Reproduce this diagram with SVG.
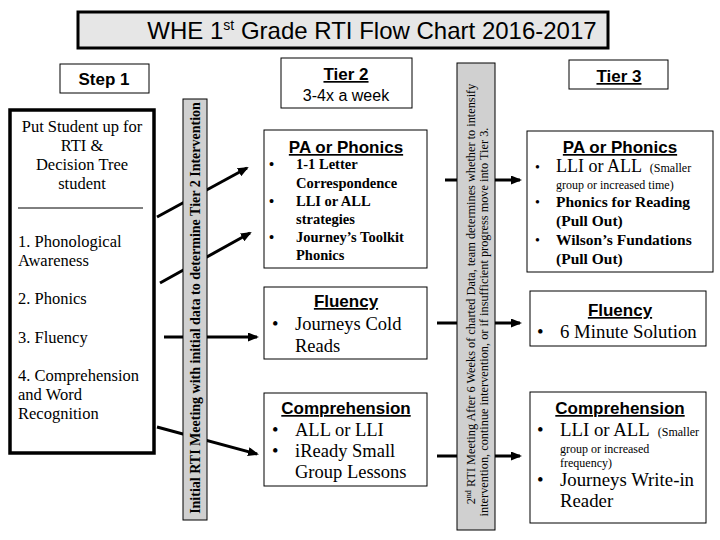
<svg xmlns="http://www.w3.org/2000/svg" width="720" height="540" viewBox="0 0 720 540">
<style>
.box{fill:#fff;stroke:#000;stroke-width:1}
.hd{font-family:"Liberation Sans",Arial,sans-serif;font-weight:bold;font-size:17px;text-decoration:underline;text-anchor:middle}
.sf{font-family:"Liberation Serif","Times New Roman",serif}
.b{font-weight:bold}
.bar{fill:#d0d0d0;stroke:#000;stroke-width:1}
.conn{stroke:#000;stroke-width:3;fill:none}
</style>
<defs>
<marker id="ah" markerUnits="userSpaceOnUse" markerWidth="11" markerHeight="9" refX="9" refY="4.5" orient="auto">
<path d="M0,0 L11,4.5 L0,9 Z" fill="#000"/>
</marker>
</defs>
<rect width="720" height="540" fill="#fff"/>

<g id="title">
<rect x="78" y="12" width="530" height="36" fill="#e6e6e6" stroke="#000" stroke-width="3"/>
<text x="372" y="39" font-family="Liberation Sans,Arial,sans-serif" font-size="24" text-anchor="middle">WHE 1<tspan font-size="14" dy="-9">st</tspan><tspan dy="9"> Grade RTI Flow Chart 2016-2017</tspan></text>
</g>

<g id="connectors">
<line class="conn" x1="157" y1="217" x2="247" y2="168" marker-end="url(#ah)"/>
<line class="conn" x1="160" y1="283" x2="250" y2="233" marker-end="url(#ah)"/>
<line class="conn" x1="164" y1="337" x2="257" y2="337" marker-end="url(#ah)"/>
<line class="conn" x1="157" y1="427" x2="257" y2="454" marker-end="url(#ah)"/>
<line class="conn" x1="445" y1="180" x2="520" y2="180" marker-end="url(#ah)"/>
<line class="conn" x1="437" y1="323" x2="520" y2="323" marker-end="url(#ah)"/>
<line class="conn" x1="437" y1="456" x2="520" y2="456" marker-end="url(#ah)"/>
</g>

<g id="step1-label">
<rect class="box" x="60" y="64" width="89" height="29"/>
<text x="104" y="85" font-family="Liberation Sans,Arial,sans-serif" font-weight="bold" font-size="17" text-anchor="middle">Step 1</text>
</g>

<g id="step1">
<rect x="10" y="110" width="144" height="343" fill="#fff" stroke="#000" stroke-width="3.5"/>
<g class="sf" font-size="16.5" text-anchor="middle">
<text x="82" y="132">Put Student up for</text>
<text x="82" y="151">RTI &amp;</text>
<text x="82" y="170">Decision Tree</text>
<text x="82" y="189">student</text>
</g>
<line x1="18" y1="208" x2="143" y2="208" stroke="#000" stroke-width="1"/>
<g class="sf" font-size="16.5">
<text x="18" y="247">1. Phonological</text>
<text x="18" y="266">Awareness</text>
<text x="18" y="304">2. Phonics</text>
<text x="18" y="343">3. Fluency</text>
<text x="18" y="381">4. Comprehension</text>
<text x="18" y="400">and Word</text>
<text x="18" y="419">Recognition</text>
</g>
</g>

<g id="meeting1">
<rect class="bar" x="183" y="99" width="24" height="421"/>
<text class="sf b" font-size="14" text-anchor="middle" transform="translate(200,308) rotate(-90)">Initial RTI Meeting with initial data to determine Tier 2 Intervention</text>
</g>

<g id="tier2-label">
<rect class="box" x="281" y="58" width="131" height="50"/>
<text class="hd" x="346" y="80">Tier 2</text>
<text x="346" y="101" font-family="Liberation Sans,Arial,sans-serif" font-size="16" text-anchor="middle">3-4x a week</text>
</g>

<g id="tier2-pa">
<rect class="box" x="264" y="130" width="163" height="138"/>
<text class="hd" x="346" y="153">PA or Phonics</text>
<g class="sf b" font-size="14.5">
<text x="269" y="169">•</text>
<text x="296" y="169">1-1 Letter</text>
<text x="296" y="188">Correspondence</text>
<text x="269" y="206">•</text>
<text x="296" y="206">LLI or ALL</text>
<text x="296" y="224">strategies</text>
<text x="269" y="242">•</text>
<text x="296" y="242">Journey’s Toolkit</text>
<text x="296" y="260">Phonics</text>
</g>
</g>

<g id="tier2-fluency">
<rect class="box" x="264" y="287" width="163" height="72"/>
<text class="hd" x="346" y="307">Fluency</text>
<g class="sf" font-size="18.5">
<text x="272" y="330">•</text>
<text x="295" y="330">Journeys Cold</text>
<text x="295" y="352">Reads</text>
</g>
</g>

<g id="tier2-comp">
<rect class="box" x="264" y="393" width="163" height="93"/>
<text class="hd" x="346" y="414">Comprehension</text>
<g class="sf" font-size="18.5">
<text x="272" y="436">•</text>
<text x="295" y="436">ALL or LLI</text>
<text x="272" y="457">•</text>
<text x="295" y="457">iReady Small</text>
<text x="295" y="478">Group Lessons</text>
</g>
</g>

<g id="meeting2">
<rect class="bar" x="457" y="63" width="38" height="467"/>
<g class="sf" font-size="12.3" text-anchor="middle">
<text transform="translate(475,294) rotate(-90)">2<tspan font-size="8" dy="-4">nd</tspan><tspan dy="4"> RTI Meeting After 6 Weeks of charted Data, team determines whether to intensify</tspan></text>
<text transform="translate(488,322) rotate(-90)">intervention, continue intervention, or if insufficient progress move into Tier 3.</text>
</g>
</g>

<g id="tier3-label">
<rect class="box" x="569" y="60" width="99" height="29"/>
<text class="hd" x="619" y="82">Tier 3</text>
</g>

<g id="tier3-pa">
<rect class="box" x="527" y="131" width="186" height="141"/>
<text class="hd" x="620" y="153">PA or Phonics</text>
<g class="sf">
<text x="535" y="172" font-size="14">•</text>
<text x="556" y="172" font-size="18">LLI or ALL <tspan font-size="12" dx="4">(Smaller</tspan></text>
<text x="556" y="189" font-size="12">group or increased time)</text>
<text x="535" y="207" font-size="14">•</text>
<text x="556" y="207" font-size="15.5" font-weight="bold">Phonics for Reading</text>
<text x="556" y="226" font-size="15.5" font-weight="bold">(Pull Out)</text>
<text x="535" y="245" font-size="14">•</text>
<text x="556" y="245" font-size="15.5" font-weight="bold">Wilson’s Fundations</text>
<text x="556" y="264" font-size="15.5" font-weight="bold">(Pull Out)</text>
</g>
</g>

<g id="tier3-fluency">
<rect class="box" x="530" y="291" width="176" height="55"/>
<text class="hd" x="620" y="316">Fluency</text>
<g class="sf" font-size="18.8">
<text x="537" y="338">•</text>
<text x="560" y="338">6 Minute Solution</text>
</g>
</g>

<g id="tier3-comp">
<rect class="box" x="530" y="392" width="176" height="131"/>
<text class="hd" x="620" y="414">Comprehension</text>
<g class="sf">
<text x="537" y="436" font-size="18.8">•</text>
<text x="560" y="436" font-size="18.8">LLI or ALL <tspan font-size="12" dx="4">(Smaller</tspan></text>
<text x="560" y="453" font-size="12">group or increased</text>
<text x="560" y="467" font-size="12">frequency)</text>
<text x="537" y="486" font-size="18.8">•</text>
<text x="560" y="486" font-size="18.8">Journeys Write-in</text>
<text x="560" y="507" font-size="18.8">Reader</text>
</g>
</g>
</svg>
